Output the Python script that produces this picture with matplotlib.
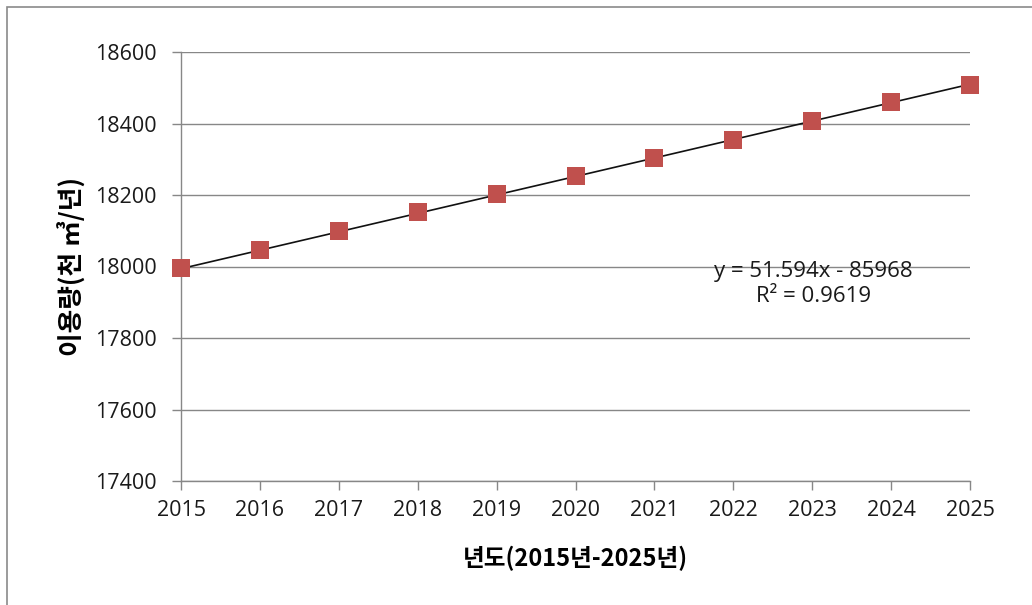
import matplotlib.pyplot as plt
import numpy as np
from matplotlib.patches import Rectangle

plt.rcParams['font.family'] = ['Open Sans', 'Noto Sans CJK KR', 'DejaVu Sans']

years = [2015, 2016, 2017, 2018, 2019, 2020, 2021, 2022, 2023, 2024, 2025]
usage = [17995, 18045, 18100, 18152, 18202, 18254, 18303, 18355, 18407, 18459, 18508]
y_ticks = [17400, 17600, 17800, 18000, 18200, 18400, 18600]
slope, intercept = 51.594, -85968

fig = plt.figure(figsize=(10.32, 6.05), dpi=100)
ax = fig.add_axes([181 / 1032, 1 - 481 / 605, (970 - 181) / 1032, (481 - 52) / 605])

grid_c = '#878787'
ax.set_xlim(2015, 2025)
ax.set_ylim(17400, 18600)
ax.set_yticks(y_ticks)
ax.set_xticks(years)
ax.yaxis.grid(True, color=grid_c, linewidth=1)
ax.set_axisbelow(True)
for s in ['top', 'right']:
    ax.spines[s].set_visible(False)
for s in ['left', 'bottom']:
    ax.spines[s].set_color(grid_c)
    ax.spines[s].set_linewidth(1)
ax.tick_params(axis='both', direction='out', length=6.5, width=1, color=grid_c,
               labelsize=15.5, labelcolor='#1a1a1a')
ax.tick_params(axis='y', pad=11)
ax.tick_params(axis='x', pad=7)

xs = np.array(years)
ax.plot(xs, slope * xs + intercept, color='#111111', linewidth=1.2, zorder=3)
ax.plot(years, usage, 's', color='#C0504D', markersize=13, markeredgewidth=0,
        clip_on=False, zorder=4)

ax.text(0.802, 0.459, 'y = 51.594x - 85968\nR² = 0.9619', transform=ax.transAxes,
        ha='center', va='center', fontsize=16, color='#1a1a1a', linespacing=1.3)

ax.set_xlabel('년도(2015년-2025년)', fontsize=17, fontweight='bold',
              family=['Noto Sans CJK KR', 'DejaVu Sans'], labelpad=18)
ax.set_ylabel('이용량(천 ㎥/년)', fontsize=18.5, fontweight='bold',
              family=['Noto Sans CJK KR', 'DejaVu Sans'], labelpad=6)

fig.patches.append(Rectangle((7 / 1032, -0.1), 1.2, 1 - 7 / 605 + 0.1,
                             transform=fig.transFigure, fill=False,
                             edgecolor='#8a8a8a', linewidth=1.2))

fig.savefig('out.png', dpi=100)
